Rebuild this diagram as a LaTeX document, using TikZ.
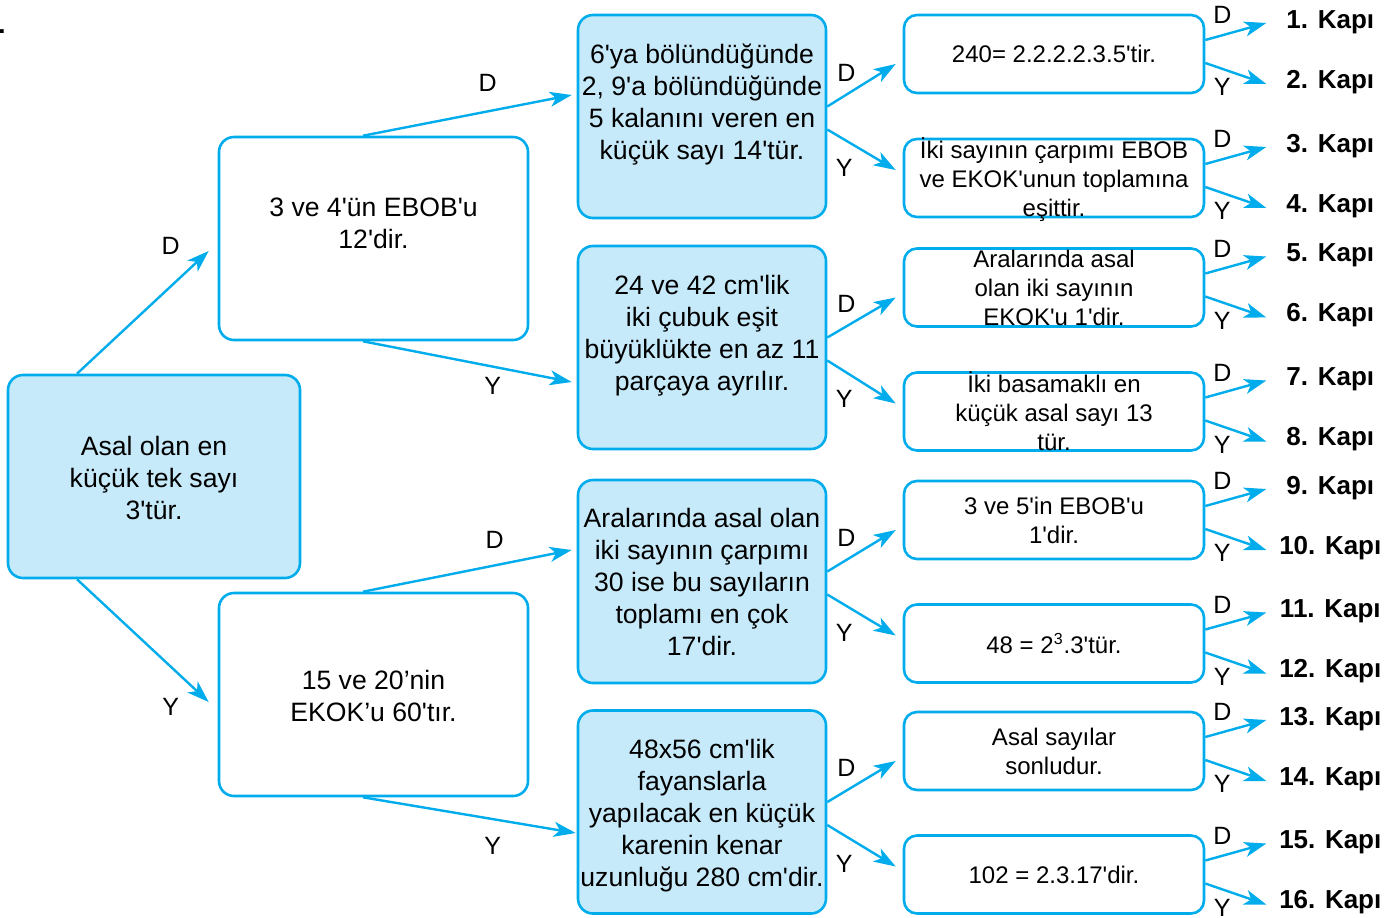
\documentclass[tikz,border=0pt]{standalone}
\usepackage{fontspec}
\newfontfamily\arialfont{Liberation Sans}
\usetikzlibrary{arrows.meta, calc, positioning}
\definecolor{kcyan}{RGB}{0,172,236}
\definecolor{kfill}{RGB}{199,234,250}

\begin{document}
\begin{tikzpicture}[x=0.5pt,y=-0.5pt,node distance=0cm]

\tikzstyle{frame}=[rectangle,draw=kcyan,line width=1.3pt,rounded corners=7.5pt,inner sep=0pt,minimum height=101.5pt];
\tikzstyle{bluebox}=[frame,fill=kfill];
\tikzstyle{whitebox}=[frame,fill=white,minimum width=154.5pt];
\tikzstyle{smallbox}=[frame,rounded corners=6.5pt,minimum width=150pt,minimum height=39pt];
\tikzstyle{bigtxt}=[align=center,inner sep=0pt,font=\arialfont\fontsize{13.3}{16}\selectfont];
\tikzstyle{smalltxt}=[align=center,inner sep=0pt,font=\arialfont\fontsize{12}{14.5}\selectfont];
\tikzstyle{yn}=[inner sep=0pt,font=\arialfont\fontsize{12.5}{15}\selectfont];
\tikzstyle{kapi}=[inner sep=0pt,font=\arialfont\bfseries\fontsize{13}{15}\selectfont];
\tikzstyle{arr}=[draw=kcyan,line width=1.2pt,-{Stealth[length=11pt,width=7.5pt,inset=3pt]}];

\useasboundingbox (0,0) rectangle (1397,917);
\node (dot) [anchor=base west,inner sep=0pt,font=\arialfont\bfseries\fontsize{13}{15}\selectfont] at (-2,33) {.};

% first column
\node (root) [bluebox,minimum width=146pt] at (154,476.5) {};
\node (roott) [bigtxt] at ([yshift=-0.75pt]root.center) {Asal olan en\\küçük tek sayı\\3'tür.};

% second column
\node (b1) [whitebox] at (373.5,238.5) {};
\node (b1t) [bigtxt] at ([yshift=7.75pt]b1.center) {3 ve 4'ün EBOB'u\\12'dir.};
\node (b2) [whitebox] at (373.5,694.5) {};
\node (b2t) [bigtxt] at ([yshift=-0.75pt]b2.center) {15 ve 20’nin\\EKOK’u 60'tır.};

% third column
\node (c1) [bluebox,minimum width=124pt] at (702,116.5) {};
\node (c1t) [bigtxt] at ([yshift=5.75pt]c1.center) {6'ya bölündüğünde\\2, 9'a bölündüğünde\\5 kalanını veren en\\küçük sayı 14'tür.};
\node (c2) [bluebox,minimum width=124pt] at (702,347.5) {};
\node (c2t) [bigtxt] at ([yshift=5.75pt]c2.center) {24 ve 42 cm'lik\\iki çubuk eşit\\büyüklükte en az 11\\parçaya ayrılır.};
\node (c3) [bluebox,minimum width=124pt] at (702,581.5) {};
\node (c3t) [bigtxt] at (c3.center) {Aralarında asal olan\\iki sayının çarpımı\\30 ise bu sayıların\\toplamı en çok\\17'dir.};
\node (c4) [bluebox,minimum width=124pt] at (702,812) {};
\node (c4t) [bigtxt] at ([yshift=-2pt]c4.center) {48x56 cm'lik\\fayanslarla\\yapılacak en küçük\\karenin kenar\\uzunluğu 280 cm'dir.};

% fourth column
\node (e1) [smallbox] at (1054,54) {};
\node (e1t) [smalltxt] at (e1.center) {240= 2.2.2.2.3.5'tir.};
\node (e2) [smallbox] at (1054,178) {};
\node (e2t) [smalltxt] at ([yshift=-0.75pt]e2.center) {İki sayının çarpımı EBOB\\ve EKOK'unun toplamına\\eşittir.};
\node (e3) [smallbox] at (1054,287.5) {};
\node (e3t) [smalltxt] at (e3.center) {Aralarında asal\\olan iki sayının\\EKOK'u 1'dir.};
\node (e4) [smallbox] at (1054,411.5) {};
\node (e4t) [smalltxt] at (e4.center) {İki basamaklı en\\küçük asal sayı 13\\tür.};
\node (e5) [smallbox] at (1054,520) {};
\node (e5t) [smalltxt] at (e5.center) {3 ve 5'in EBOB'u\\1'dir.};
\node (e6) [smallbox] at (1054,643.5) {};
\node (e6t) [smalltxt] at (e6.center) {48 = 2\textsuperscript{3}.3'tür.};
\node (e7) [smallbox] at (1054,751) {};
\node (e7t) [smalltxt] at (e7.center) {Asal sayılar\\sonludur.};
\node (e8) [smallbox] at (1054,874.5) {};
\node (e8t) [smalltxt] at (e8.center) {102 = 2.3.17'dir.};

% doors
\node (k1) [kapi] at ([xshift=62.5pt,yshift=16pt]e1.east) {1. Kapı};
\node (k2) [kapi] at ([xshift=62.5pt,yshift=-14pt]e1.east) {2. Kapı};
\node (k3) [kapi] at ([xshift=62.5pt,yshift=16pt]e2.east) {3. Kapı};
\node (k4) [kapi] at ([xshift=62.5pt,yshift=-14pt]e2.east) {4. Kapı};
\node (k5) [kapi] at ([xshift=62.5pt,yshift=16pt]e3.east) {5. Kapı};
\node (k6) [kapi] at ([xshift=62.5pt,yshift=-14pt]e3.east) {6. Kapı};
\node (k7) [kapi] at ([xshift=62.5pt,yshift=16pt]e4.east) {7. Kapı};
\node (k8) [kapi] at ([xshift=62.5pt,yshift=-14pt]e4.east) {8. Kapı};
\node (k9) [kapi] at ([xshift=62.5pt,yshift=16pt]e5.east) {9. Kapı};
\node (k10) [kapi] at ([xshift=62.5pt,yshift=-14pt]e5.east) {10. Kapı};
\node (k11) [kapi] at ([xshift=62.5pt,yshift=16pt]e6.east) {11. Kapı};
\node (k12) [kapi] at ([xshift=62.5pt,yshift=-14pt]e6.east) {12. Kapı};
\node (k13) [kapi] at ([xshift=62.5pt,yshift=16pt]e7.east) {13. Kapı};
\node (k14) [kapi] at ([xshift=62.5pt,yshift=-14pt]e7.east) {14. Kapı};
\node (k15) [kapi] at ([xshift=62.5pt,yshift=16pt]e8.east) {15. Kapı};
\node (k16) [kapi] at ([xshift=62.5pt,yshift=-14pt]e8.east) {16. Kapı};

% arrows with D / Y
\draw [arr] ([xshift=-38.5pt]root.north) -- ([xshift=-4.5pt,yshift=-6.25pt]b1.west) node (rd) [yn,xshift=-19pt,yshift=2.5pt] {D};
\draw [arr] ([xshift=-38.5pt]root.south) -- ([xshift=-4.5pt,yshift=-3.75pt]b2.west) node (ry) [yn,xshift=-19pt,yshift=-2.5pt] {Y};

\draw [arr] ([xshift=-5.25pt]b1.north) -- ([xshift=-2.5pt,yshift=10.75pt]c1.west) node (b1d) [yn,xshift=-42pt,yshift=5.9pt] {D};
\draw [arr] ([xshift=-5.25pt]b1.south) -- ([xshift=-2.5pt,yshift=-17.25pt]c2.west) node (b1y) [yn,xshift=-39.5pt,yshift=-2pt] {Y};
\draw [arr] ([xshift=-5.25pt]b2.north) -- ([xshift=-2.5pt,yshift=15.75pt]c3.west) node (b2d) [yn,xshift=-38.5pt,yshift=5pt] {D};
\draw [arr] ([xshift=-5.25pt]b2.south) -- ([xshift=-0.5pt,yshift=-10.5pt]c4.west) node (b2y) [yn,xshift=-41.5pt,yshift=-6.5pt] {Y};

\draw [arr] ([yshift=5pt]c1.east) node (c1d) [yn,xshift=9.5pt,yshift=17pt] {D} -- ([xshift=-3.5pt,yshift=-5pt]e1.west);
\draw [arr] ([yshift=-6.5pt]c1.east) node (c1y) [yn,xshift=8.5pt,yshift=-19.25pt] {Y} -- ([xshift=-3.5pt,yshift=4pt]e2.west);
\draw [arr] ([yshift=5pt]c2.east) node (c2d) [yn,xshift=9.5pt,yshift=17pt] {D} -- ([xshift=-3.5pt,yshift=-5pt]e3.west);
\draw [arr] ([yshift=-6.5pt]c2.east) node (c2y) [yn,xshift=8.5pt,yshift=-19.25pt] {Y} -- ([xshift=-3.5pt,yshift=4pt]e4.west);
\draw [arr] ([yshift=5pt]c3.east) node (c3d) [yn,xshift=9.5pt,yshift=17pt] {D} -- ([xshift=-3.5pt,yshift=-5pt]e5.west);
\draw [arr] ([yshift=-6.5pt]c3.east) node (c3y) [yn,xshift=8.5pt,yshift=-19.25pt] {Y} -- ([xshift=-3.5pt,yshift=4pt]e6.west);
\draw [arr] ([yshift=5pt]c4.east) node (c4d) [yn,xshift=9.5pt,yshift=17pt] {D} -- ([xshift=-3.5pt,yshift=-5pt]e7.west);
\draw [arr] ([yshift=-6.5pt]c4.east) node (c4y) [yn,xshift=8.5pt,yshift=-19.25pt] {Y} -- ([xshift=-3.5pt,yshift=4pt]e8.west);

\draw [arr] ([yshift=7pt]e1.east) node (e1d) [yn,xshift=8.5pt,yshift=12.5pt] {D} -- ([xshift=-32pt,yshift=-0.5pt]k1.center);
\draw [arr] ([yshift=-4.5pt]e1.east) node (e1y) [yn,xshift=8.5pt,yshift=-12pt] {Y} -- ([xshift=-32pt,yshift=-1pt]k2.center);
\draw [arr] ([yshift=7pt]e2.east) node (e2d) [yn,xshift=8.5pt,yshift=12.5pt] {D} -- ([xshift=-32pt,yshift=-0.5pt]k3.center);
\draw [arr] ([yshift=-4.5pt]e2.east) node (e2y) [yn,xshift=8.5pt,yshift=-12pt] {Y} -- ([xshift=-32pt,yshift=-1pt]k4.center);
\draw [arr] ([yshift=7pt]e3.east) node (e3d) [yn,xshift=8.5pt,yshift=12.5pt] {D} -- ([xshift=-32pt,yshift=-0.5pt]k5.center);
\draw [arr] ([yshift=-4.5pt]e3.east) node (e3y) [yn,xshift=8.5pt,yshift=-12pt] {Y} -- ([xshift=-32pt,yshift=-1pt]k6.center);
\draw [arr] ([yshift=7pt]e4.east) node (e4d) [yn,xshift=8.5pt,yshift=12.5pt] {D} -- ([xshift=-32pt,yshift=-0.5pt]k7.center);
\draw [arr] ([yshift=-4.5pt]e4.east) node (e4y) [yn,xshift=8.5pt,yshift=-12pt] {Y} -- ([xshift=-32pt,yshift=-1pt]k8.center);
\draw [arr] ([yshift=7pt]e5.east) node (e5d) [yn,xshift=8.5pt,yshift=12.5pt] {D} -- ([xshift=-32pt,yshift=-0.5pt]k9.center);
\draw [arr] ([yshift=-4.5pt]e5.east) node (e5y) [yn,xshift=8.5pt,yshift=-12pt] {Y} -- ([xshift=-32pt,yshift=-1pt]k10.center);
\draw [arr] ([yshift=7pt]e6.east) node (e6d) [yn,xshift=8.5pt,yshift=12.5pt] {D} -- ([xshift=-32pt,yshift=-0.5pt]k11.center);
\draw [arr] ([yshift=-4.5pt]e6.east) node (e6y) [yn,xshift=8.5pt,yshift=-12pt] {Y} -- ([xshift=-32pt,yshift=-1pt]k12.center);
\draw [arr] ([yshift=7pt]e7.east) node (e7d) [yn,xshift=8.5pt,yshift=12.5pt] {D} -- ([xshift=-32pt,yshift=-0.5pt]k13.center);
\draw [arr] ([yshift=-4.5pt]e7.east) node (e7y) [yn,xshift=8.5pt,yshift=-12pt] {Y} -- ([xshift=-32pt,yshift=-1pt]k14.center);
\draw [arr] ([yshift=7pt]e8.east) node (e8d) [yn,xshift=8.5pt,yshift=12.5pt] {D} -- ([xshift=-32pt,yshift=-0.5pt]k15.center);
\draw [arr] ([yshift=-4.5pt]e8.east) node (e8y) [yn,xshift=8.5pt,yshift=-12pt] {Y} -- ([xshift=-32pt,yshift=-1pt]k16.center);

\end{tikzpicture}
\end{document}
